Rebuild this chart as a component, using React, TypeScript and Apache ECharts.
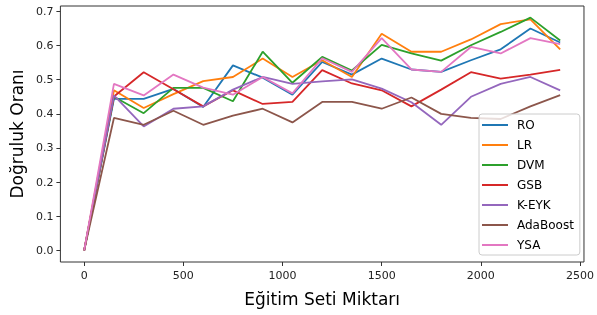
import React, { useEffect, useRef } from "react";
import * as echarts from "echarts";

const xValues = [0, 150, 300, 450, 600, 750, 900, 1050, 1200, 1350, 1500, 1650, 1800, 1950, 2100, 2250, 2400];
const seriesNames = ["RO", "LR", "DVM", "GSB", "K-EYK", "AdaBoost", "YSA"];
const RO = [0.0, 0.444, 0.444, 0.473, 0.42, 0.542, 0.506, 0.456, 0.552, 0.515, 0.562, 0.53, 0.523, 0.557, 0.589, 0.65, 0.609];
const LR = [0.0, 0.469, 0.417, 0.458, 0.496, 0.508, 0.562, 0.508, 0.557, 0.508, 0.635, 0.582, 0.582, 0.618, 0.663, 0.677, 0.589];
const DVM = [0.0, 0.45, 0.402, 0.476, 0.476, 0.437, 0.582, 0.491, 0.567, 0.527, 0.602, 0.577, 0.556, 0.601, 0.64, 0.682, 0.615];
const GSB = [0.0, 0.451, 0.522, 0.472, 0.422, 0.469, 0.429, 0.435, 0.528, 0.489, 0.469, 0.422, 0.471, 0.522, 0.503, 0.515, 0.529];
const KEYK = [0.0, 0.454, 0.363, 0.415, 0.422, 0.471, 0.508, 0.488, 0.495, 0.501, 0.474, 0.434, 0.368, 0.45, 0.488, 0.508, 0.469];
const AdaBoost = [0.0, 0.388, 0.368, 0.409, 0.368, 0.395, 0.415, 0.375, 0.435, 0.435, 0.415, 0.448, 0.4, 0.388, 0.385, 0.422, 0.455];
const YSA = [0.0, 0.488, 0.454, 0.515, 0.477, 0.456, 0.508, 0.46, 0.563, 0.523, 0.622, 0.53, 0.523, 0.596, 0.577, 0.622, 0.604];
const xTicks = [0, 500, 1000, 1500, 2000, 2500];
const yTicks = [0, 0.1, 0.2, 0.3, 0.4, 0.5, 0.6, 0.7];
const colors = ["#1f77b4", "#ff7f0e", "#2ca02c", "#d62728", "#9467bd", "#8c564b", "#e377c2"];

export default function App() {
  const ref = useRef<HTMLDivElement>(null);
  useEffect(() => {
    if (!ref.current) return;
    const chart = echarts.init(ref.current, undefined, { renderer: "svg" });
    const all = [RO, LR, DVM, GSB, KEYK, AdaBoost, YSA];
    const font = "DejaVu Sans";
    chart.setOption({
      animation: false,
      color: colors,
      textStyle: { fontFamily: font },
      grid: {
        left: 60,
        right: 7,
        top: 6,
        bottom: 53,
        show: true,
        borderColor: "#333",
        borderWidth: 1,
        backgroundColor: "transparent",
      },
      legend: {
        orient: "vertical",
        left: 479,
        top: 114,
        width: 102,
        data: seriesNames,
        icon: "rect",
        itemWidth: 26,
        itemHeight: 2,
        itemGap: 6,
        padding: [4, 6, 3, 3],
        backgroundColor: "rgba(255,255,255,0.8)",
        borderColor: "#ccc",
        borderWidth: 1,
        borderRadius: 3,
        textStyle: { fontFamily: font, fontSize: 12, color: "#000", lineHeight: 14, padding: [0, 0, 0, 4] },
      },
      xAxis: {
        type: "value",
        min: -120,
        max: 2520,
        name: "Eğitim Seti Miktarı",
        nameLocation: "middle",
        nameGap: 28,
        nameTextStyle: { fontFamily: font, fontSize: 17, color: "#000" },
        axisLine: { show: false, onZero: false },
        splitLine: { show: false },
        axisTick: { show: true, inside: false, length: 4, customValues: xTicks, lineStyle: { color: "#333" } },
        axisLabel: { customValues: xTicks, fontSize: 11, color: "#222", margin: 8, formatter: (v: number) => String(v) },
      },
      yAxis: {
        type: "value",
        min: -0.034,
        max: 0.716,
        name: "Doğruluk Oranı",
        nameLocation: "middle",
        nameGap: 35,
        nameTextStyle: { fontFamily: font, fontSize: 17, color: "#000" },
        axisLine: { show: false, onZero: false },
        splitLine: { show: false },
        axisTick: { show: true, inside: false, length: 4, customValues: yTicks, lineStyle: { color: "#333" } },
        axisLabel: { customValues: yTicks, fontSize: 11, color: "#222", margin: 7, formatter: (v: number) => v.toFixed(1) },
      },
      series: seriesNames.map((name, i) => ({
        name,
        type: "line",
        data: xValues.map((x, j) => [x, all[i][j]]),
        showSymbol: false,
        symbol: "none",
        lineStyle: { width: 1.8, color: colors[i] },
        itemStyle: { color: colors[i] },
      })),
    });
    return () => chart.dispose();
  }, []);
  return <div ref={ref} style={{ position: "fixed", left: 0, top: 0, width: 597, height: 315 }} />;
}
